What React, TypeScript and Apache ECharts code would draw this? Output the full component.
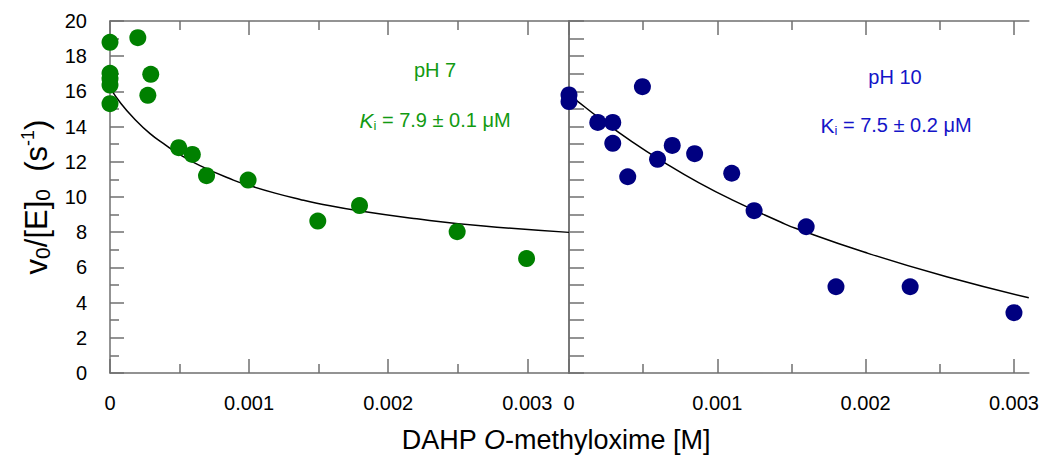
import React, { useEffect, useRef } from "react";
import * as echarts from "echarts";

// ---- data ----
const xMajorTicks = [0, 0.001, 0.002, 0.003];
const xMinorTicks = [0.0005, 0.0015, 0.0025];
const xMaxPH7 = 0.0033;
const xMaxPH10 = 0.0031;

// pH 7 measured points [inhibitor M, v0/[E]0]
const ph7Points: number[][] = [
  [0, 18.79], [0, 17.03], [0, 16.72], [0, 16.36], [0, 15.3],
  [0.0002, 19.05], [0.000293, 16.97], [0.000272, 15.78],
  [0.000494, 12.8], [0.000592, 12.42], [0.000694, 11.21], [0.000993, 10.96],
  [0.001494, 8.63], [0.001794, 9.51], [0.002496, 8.03], [0.002995, 6.5],
];
// pH 7 fitted curve
const ph7Curve: number[][] = [
  [0, 16.2], [0.00008, 15.3], [0.000168, 14.5], [0.000288, 13.6], [0.0004, 12.95],
  [0.00049, 12.47], [0.000647, 11.78], [0.000887, 10.96], [0.001007, 10.64],
  [0.001187, 10.22], [0.001367, 9.86], [0.001487, 9.65], [0.0018, 9.2],
  [0.002206, 8.76], [0.002686, 8.35], [0.0033, 7.99],
];

// pH 10 measured points
const ph10Points: number[][] = [
  [0, 15.8], [0, 15.42], [0.000194, 14.24], [0.000295, 14.24], [0.000295, 13.05],
  [0.000396, 11.15], [0.000495, 16.27], [0.000597, 12.14], [0.000696, 12.93],
  [0.000847, 12.46], [0.001097, 11.35], [0.001248, 9.22], [0.001599, 8.31],
  [0.0018, 4.9], [0.0023, 4.9], [0.003, 3.43],
];
// pH 10 fitted curve
const ph10Curve: number[][] = [
  [0, 15.78], [0.0000405, 15.55], [0.000198, 14.52], [0.000424, 13.15],
  [0.000649, 11.93], [0.000874, 10.82], [0.0011, 9.84], [0.001426, 8.58],
  [0.001527, 8.22], [0.001989, 6.87], [0.002552, 5.45], [0.0031, 4.28],
];

const AXIS = "#6f6f6f";
const FONT = "Liberation Sans, Arial, sans-serif";

function xAxes(grid: number, max: number) {
  const base = {
    type: "value" as const,
    gridIndex: grid,
    min: 0,
    max,
    splitLine: { show: false },
  };
  const fmt = (v: number) => (v === 0 ? "0" : v.toFixed(3));
  return [
    {
      ...base,
      position: "bottom",
      axisLine: { show: true, lineStyle: { color: AXIS, width: 1.5 } },
      axisTick: { show: true, inside: true, length: 14, customValues: xMajorTicks, lineStyle: { color: AXIS, width: 1.5 } },
      axisLabel: { show: true, customValues: xMajorTicks, formatter: fmt, fontSize: 20, color: "#000", margin: 20, fontFamily: FONT },
    },
    {
      ...base,
      position: "bottom",
      axisLine: { show: false },
      axisTick: { show: true, inside: true, length: 9, customValues: xMinorTicks, lineStyle: { color: AXIS, width: 1.5 } },
      axisLabel: { show: false },
    },
    {
      ...base,
      position: "top",
      axisLine: { show: true, lineStyle: { color: AXIS, width: 1.5 } },
      axisTick: { show: true, inside: true, length: 14, customValues: xMajorTicks, lineStyle: { color: AXIS, width: 1.5 } },
      axisLabel: { show: false },
    },
    {
      ...base,
      position: "top",
      axisLine: { show: false },
      axisTick: { show: true, inside: true, length: 9, customValues: xMinorTicks, lineStyle: { color: AXIS, width: 1.5 } },
      axisLabel: { show: false },
    },
  ];
}

export default function App() {
  const ref = useRef<HTMLDivElement>(null);
  useEffect(() => {
    document.body.style.margin = "0";
    const chart = echarts.init(ref.current!, undefined, { renderer: "svg" });
    chart.setOption({
      animation: false,
      backgroundColor: "#fff",
      textStyle: { fontFamily: FONT },
      grid: [
        { left: 110, top: 21, width: 459, height: 352 },
        { left: 569, top: 21, width: 460, height: 352 },
      ],
      xAxis: [...xAxes(0, xMaxPH7), ...xAxes(1, xMaxPH10)],
      yAxis: [
        {
          type: "value",
          gridIndex: 0,
          position: "left",
          min: 0,
          max: 20,
          interval: 2,
          splitLine: { show: false },
          axisLine: { show: true, lineStyle: { color: AXIS, width: 1.5 } },
          axisTick: { show: true, inside: true, length: 14, lineStyle: { color: AXIS, width: 1.5 } },
          minorTick: { show: true, splitNumber: 2, length: 9, lineStyle: { color: AXIS, width: 1.5 } },
          axisLabel: { fontSize: 20, color: "#000", margin: 23, fontFamily: FONT },
          name: "{a|v}{b|0}{a|/[E]}{b|0}{a|  (s}{c|-1}{a|)}",
          nameLocation: "middle",
          nameGap: 57,
          nameTextStyle: {
            color: "#000",
            fontSize: 31,
            fontFamily: FONT,
            rich: {
              a: { fontSize: 31, lineHeight: 34, fontFamily: FONT, color: "#000" },
              b: { fontSize: 21, lineHeight: 20, verticalAlign: "bottom", fontFamily: FONT, color: "#000" },
              c: { fontSize: 18, lineHeight: 17, verticalAlign: "top", fontFamily: FONT, color: "#000" },
            },
          },
        },
        {
          type: "value",
          gridIndex: 1,
          position: "left",
          min: 0,
          max: 20,
          interval: 1,
          splitLine: { show: false },
          axisLine: { show: true, lineStyle: { color: AXIS, width: 1.5 } },
          axisTick: { show: true, inside: true, length: 15, lineStyle: { color: AXIS, width: 1.5 } },
          axisLabel: { show: false },
        },
        {
          type: "value",
          gridIndex: 1,
          position: "right",
          min: 0,
          max: 20,
          interval: 1,
          splitLine: { show: false },
          axisLine: { show: true, lineStyle: { color: AXIS, width: 1.5 } },
          axisTick: { show: false },
          axisLabel: { show: false },
        },
      ],
      series: [
        {
          type: "line",
          xAxisIndex: 0,
          yAxisIndex: 0,
          data: ph7Curve,
          smooth: 0.5,
          showSymbol: false,
          symbol: "none",
          clip: true,
          lineStyle: { color: "#000", width: 1.5 },
          z: 3,
        },
        {
          type: "scatter",
          xAxisIndex: 0,
          yAxisIndex: 0,
          data: ph7Points,
          symbolSize: 17,
          clip: false,
          itemStyle: { color: "#008000", opacity: 1 },
          z: 4,
        },
        {
          type: "line",
          xAxisIndex: 4,
          yAxisIndex: 1,
          data: ph10Curve,
          smooth: 0.5,
          showSymbol: false,
          symbol: "none",
          clip: true,
          lineStyle: { color: "#000", width: 1.5 },
          z: 3,
        },
        {
          type: "scatter",
          xAxisIndex: 4,
          yAxisIndex: 1,
          data: ph10Points,
          symbolSize: 17,
          clip: false,
          itemStyle: { color: "#000080", opacity: 1 },
          z: 4,
        },
      ],
      graphic: [
        {
          type: "text",
          x: 435,
          y: 70,
          style: { text: "pH 7", fill: "#129a12", fontSize: 20, fontFamily: FONT, align: "center", verticalAlign: "middle" },
        },
        {
          type: "text",
          x: 435,
          y: 120,
          style: {
            text: "{k|K}{s|i}{t| = 7.9 ± 0.1 μM}",
            fill: "#129a12",
            fontSize: 20,
            fontFamily: FONT,
            align: "center",
            verticalAlign: "middle",
            rich: {
              k: { fontSize: 21, fontStyle: "italic", lineHeight: 24, fill: "#129a12", fontFamily: FONT },
              s: { fontSize: 13, lineHeight: 12, verticalAlign: "bottom", fill: "#129a12", fontFamily: FONT },
              t: { fontSize: 20, lineHeight: 24, fill: "#129a12", fontFamily: FONT },
            },
          },
        },
        {
          type: "text",
          x: 895,
          y: 77,
          style: { text: "pH 10", fill: "#1414c8", fontSize: 20, fontFamily: FONT, align: "center", verticalAlign: "middle" },
        },
        {
          type: "text",
          x: 896,
          y: 125,
          style: {
            text: "{k|K}{s|i}{t| = 7.5 ± 0.2 μM}",
            fill: "#1414c8",
            fontSize: 20,
            fontFamily: FONT,
            align: "center",
            verticalAlign: "middle",
            rich: {
              k: { fontSize: 21, lineHeight: 24, fill: "#1414c8", fontFamily: FONT },
              s: { fontSize: 13, lineHeight: 12, verticalAlign: "bottom", fill: "#1414c8", fontFamily: FONT },
              t: { fontSize: 20, lineHeight: 24, fill: "#1414c8", fontFamily: FONT },
            },
          },
        },
        {
          type: "text",
          x: 556,
          y: 440,
          style: {
            text: "{a|DAHP }{i|O}{a|-methyloxime [M]}",
            fill: "#000",
            fontSize: 27,
            fontFamily: FONT,
            align: "center",
            verticalAlign: "middle",
            rich: {
              a: { fontSize: 27, fill: "#000", fontFamily: FONT },
              i: { fontSize: 27, fontStyle: "italic", fill: "#000", fontFamily: FONT },
            },
          },
        },
      ],
    });
    return () => chart.dispose();
  }, []);
  return <div ref={ref} style={{ width: 1042, height: 455 }} />;
}
